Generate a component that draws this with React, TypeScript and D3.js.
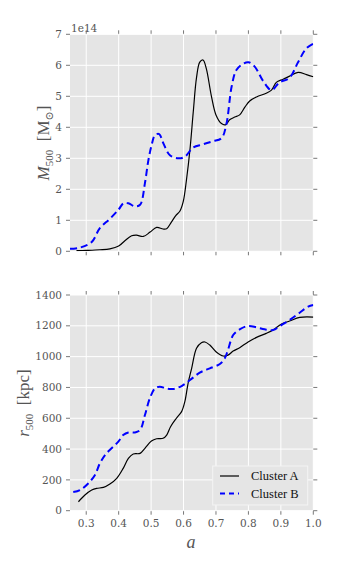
import React from "react";
import * as d3 from "d3";

// scale factor a
const aA = [0.27, 0.3, 0.342, 0.373, 0.4, 0.42, 0.44, 0.455, 0.476, 0.497, 0.517, 0.537, 0.548, 0.563, 0.576, 0.589, 0.599, 0.609, 0.62, 0.63, 0.64, 0.65, 0.66, 0.67, 0.686, 0.7, 0.717, 0.729, 0.743, 0.758, 0.773, 0.789, 0.804, 0.825, 0.855, 0.871, 0.886, 0.907, 0.927, 0.953, 0.979, 1.0];
// M500 of cluster A, units of 1e14 Msun
const massA = [0.02, 0.03, 0.05, 0.08, 0.17, 0.35, 0.5, 0.52, 0.48, 0.62, 0.77, 0.72, 0.73, 0.95, 1.15, 1.3, 1.6, 2.3, 3.3, 4.5, 5.6, 6.1, 6.17, 5.9, 5.0, 4.4, 4.12, 4.08, 4.25, 4.33, 4.4, 4.65, 4.85, 4.98, 5.1, 5.2, 5.45, 5.55, 5.65, 5.77, 5.7, 5.63];

const aB = [0.25, 0.281, 0.317, 0.342, 0.373, 0.4, 0.415, 0.43, 0.45, 0.466, 0.481, 0.491, 0.501, 0.512, 0.525, 0.537, 0.558, 0.584, 0.604, 0.63, 0.66, 0.69, 0.717, 0.732, 0.748, 0.763, 0.784, 0.8, 0.82, 0.845, 0.871, 0.896, 0.927, 0.953, 0.979, 1.0];
const massB = [0.08, 0.12, 0.3, 0.75, 1.05, 1.35, 1.55, 1.55, 1.45, 1.5, 2.2, 2.9, 3.4, 3.75, 3.78, 3.5, 3.1, 3.0, 3.05, 3.35, 3.45, 3.55, 3.65, 4.1, 5.3, 5.85, 6.05, 6.1, 5.95, 5.5, 5.2, 5.45, 5.6, 6.1, 6.55, 6.7];

// r500 in kpc
const aRA = [0.276, 0.296, 0.317, 0.332, 0.353, 0.373, 0.394, 0.414, 0.43, 0.445, 0.466, 0.481, 0.501, 0.517, 0.537, 0.548, 0.56, 0.578, 0.594, 0.604, 0.614, 0.625, 0.64, 0.655, 0.666, 0.681, 0.7, 0.722, 0.737, 0.753, 0.773, 0.799, 0.825, 0.855, 0.876, 0.902, 0.927, 0.958, 1.0];
const radA = [58, 102, 134, 145, 151, 173, 210, 275, 340, 368, 372, 405, 452, 467, 470, 491, 545, 600, 643, 708, 827, 924, 1054, 1090, 1095, 1075, 1032, 1004, 1010, 1036, 1058, 1095, 1125, 1151, 1173, 1212, 1231, 1255, 1257];

const aRB = [0.26, 0.281, 0.306, 0.327, 0.342, 0.358, 0.378, 0.399, 0.414, 0.43, 0.45, 0.466, 0.481, 0.496, 0.512, 0.527, 0.548, 0.568, 0.594, 0.62, 0.65, 0.681, 0.712, 0.727, 0.737, 0.753, 0.773, 0.799, 0.825, 0.85, 0.876, 0.902, 0.927, 0.958, 0.984, 1.0];
const radB = [121, 134, 177, 232, 307, 361, 405, 448, 491, 508, 508, 524, 621, 729, 794, 805, 792, 790, 809, 848, 896, 924, 952, 989, 1043, 1140, 1177, 1199, 1190, 1177, 1173, 1205, 1238, 1285, 1324, 1335];

const xTicks = [0.3, 0.4, 0.5, 0.6, 0.7, 0.8, 0.9, 1.0];
const massTicks = [0, 1, 2, 3, 4, 5, 6, 7];
const radTicks = [0, 200, 400, 600, 800, 1000, 1200, 1400];
const seriesNames = ["Cluster A", "Cluster B"];

const W = 349;
const H = 581;
const left = 70;
const right = 313.3;
const tickFont = "'DejaVu Serif', serif";
const texFont = "'Liberation Serif', 'DejaVu Serif', serif";
const gray = "#555555";

const x = d3.scaleLinear().domain([0.25, 1.0]).range([left, right]);

type PanelProps = {
  top: number;
  bottom: number;
  yMax: number;
  yTicks: number[];
  a1: number[];
  v1: number[];
  a2: number[];
  v2: number[];
  showX: boolean;
  id: string;
};

function Panel(p: PanelProps) {
  const y = d3.scaleLinear().domain([0, p.yMax]).range([p.bottom, p.top]);
  const line = d3
    .line<[number, number]>()
    .x((d) => x(d[0]))
    .y((d) => y(d[1]))
    .curve(d3.curveCatmullRom.alpha(0.5));
  const d1 = line(p.a1.map((a, i) => [a, p.v1[i]]) as [number, number][]) || "";
  const d2 = line(p.a2.map((a, i) => [a, p.v2[i]]) as [number, number][]) || "";
  return (
    <g>
      <defs>
        <clipPath id={p.id}>
          <rect x={left} y={p.top} width={right - left} height={p.bottom - p.top} />
        </clipPath>
      </defs>
      <rect x={left} y={p.top} width={right - left} height={p.bottom - p.top} fill="#e5e5e5" />
      {xTicks.map((t) => (
        <g key={"x" + t}>
          <line x1={x(t)} x2={x(t)} y1={p.top} y2={p.bottom} stroke="#ffffff" strokeWidth={1} />
          <line x1={x(t)} x2={x(t)} y1={p.bottom} y2={p.bottom + 4} stroke={gray} strokeWidth={0.8} />
          <line x1={x(t)} x2={x(t)} y1={p.top} y2={p.top - 4} stroke={gray} strokeWidth={0.8} />
          {p.showX && (
            <text x={x(t)} y={p.bottom + 16} textAnchor="middle" fontFamily={tickFont} fontSize={10.5} fill={gray}>
              {t.toFixed(1)}
            </text>
          )}
        </g>
      ))}
      {p.yTicks.map((t) => (
        <g key={"y" + t}>
          <line x1={left} x2={right} y1={y(t)} y2={y(t)} stroke="#ffffff" strokeWidth={1} />
          <line x1={left - 4} x2={left} y1={y(t)} y2={y(t)} stroke={gray} strokeWidth={0.8} />
          <line x1={right} x2={right + 4} y1={y(t)} y2={y(t)} stroke={gray} strokeWidth={0.8} />
          <text x={left - 8} y={y(t)} dy="0.35em" textAnchor="end" fontFamily={tickFont} fontSize={10.5} fill={gray}>
            {t}
          </text>
        </g>
      ))}
      <g clipPath={`url(#${p.id})`}>
        <path d={d1} fill="none" stroke="#000000" strokeWidth={1.2} />
        <path d={d2} fill="none" stroke="#0000ff" strokeWidth={2} strokeDasharray="7,4" />
      </g>
    </g>
  );
}

export default function App() {
  return (
    <svg width={W} height={H} style={{ display: "block", margin: "-8px" }}>
      <rect x={0} y={0} width={W} height={H} fill="#ffffff" />
      <Panel top={34.3} bottom={251.3} yMax={7} yTicks={massTicks} a1={aA} v1={massA} a2={aB} v2={massB} showX={false} id="clipTop" />
      <Panel top={295} bottom={510.7} yMax={1400} yTicks={radTicks} a1={aRA} v1={radA} a2={aRB} v2={radB} showX={true} id="clipBot" />
      <text x={71} y={32} fontFamily={tickFont} fontSize={10.5} fill={gray}>1e14</text>
      {/* y labels */}
      <text transform="translate(49,143) rotate(-90)" textAnchor="middle" fontFamily={texFont} fontSize={17} fill={gray}>
        <tspan fontStyle="italic">M</tspan>
        <tspan fontSize={11} dy={4}>500</tspan>
        <tspan dy={-4}>{"\u2002[M"}</tspan>
        <tspan fontSize={11} dy={4}>{"\u2299"}</tspan>
        <tspan dy={-4}>]</tspan>
      </text>
      <text transform="translate(29,403) rotate(-90)" textAnchor="middle" fontFamily={texFont} fontSize={17} fill={gray}>
        <tspan fontStyle="italic">r</tspan>
        <tspan fontSize={11} dy={4}>500</tspan>
        <tspan dy={-4}>{"\u2002[kpc]"}</tspan>
      </text>
      <text x={191} y={548} textAnchor="middle" fontFamily={texFont} fontSize={18} fontStyle="italic" fill={gray}>a</text>
      {/* legend */}
      <g>
        <rect x={212.7} y={466} width={95} height={39} fill="#e5e5e5" stroke="#f4f4f4" strokeWidth={1} />
        {seriesNames.map((name, i) => (
          <g key={name}>
            <line
              x1={220}
              x2={239}
              y1={476 + i * 17.5}
              y2={476 + i * 17.5}
              stroke={i === 0 ? "#000000" : "#0000ff"}
              strokeWidth={i === 0 ? 1.2 : 2}
              strokeDasharray={i === 0 ? undefined : "5,4"}
            />
            <text x={251} y={476 + i * 17.5} dy="0.35em" fontFamily={texFont} fontSize={12.5} fill="#111111">
              {name}
            </text>
          </g>
        ))}
      </g>
    </svg>
  );
}
